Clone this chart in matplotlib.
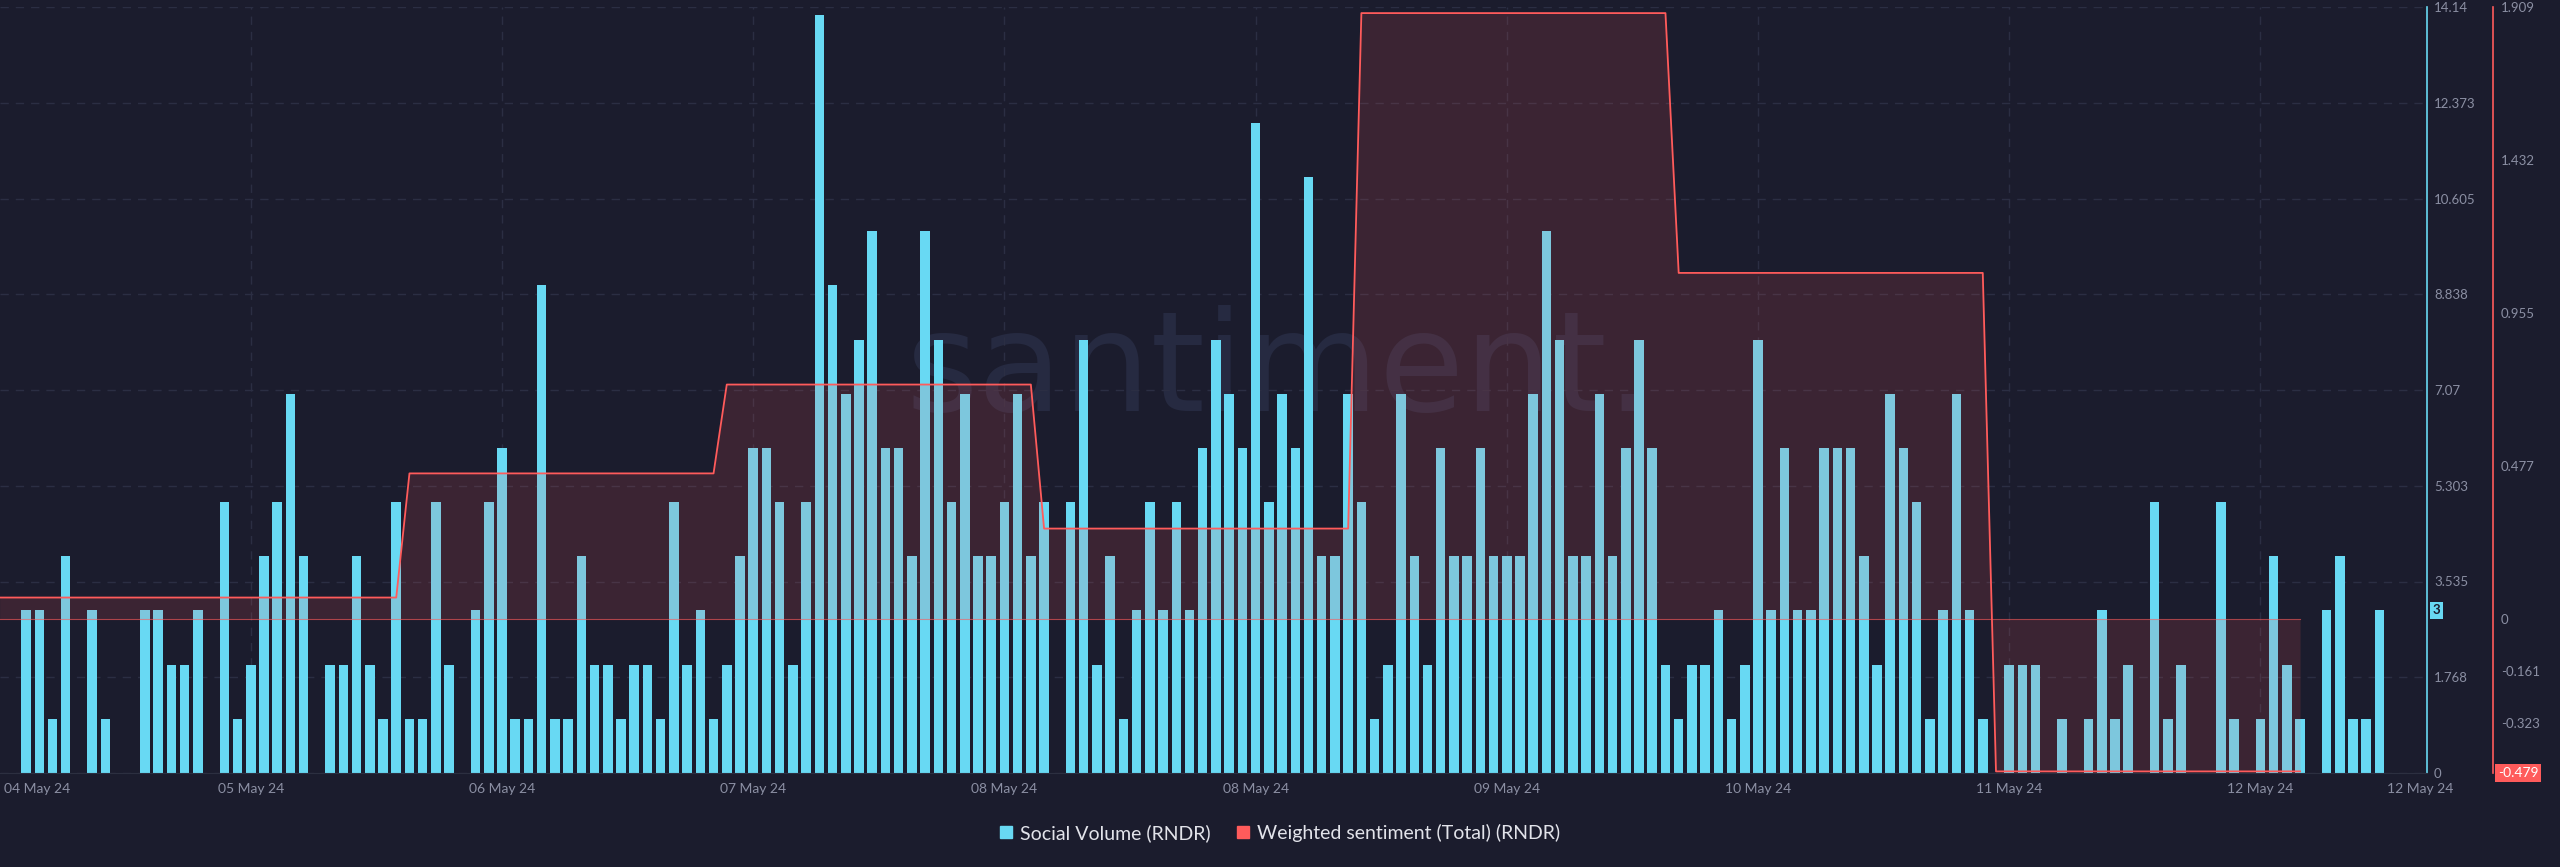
import numpy as np
import matplotlib.pyplot as plt
from matplotlib.lines import Line2D

# hourly social volume, 04 May 24 -> 12 May 24
social_volume = [
    0, 0,
    3, 3, 1, 4, 0, 3, 1, 0, 0, 3, 3, 2, 2, 3, 0, 5, 1, 2, 4, 5, 7, 4, 0, 2,
    2, 4, 2, 1, 5, 1, 1, 5, 2, 0, 3, 5, 6, 1, 1, 9, 1, 1, 4, 2,
    2, 1, 2, 2, 1, 5, 2, 3, 1, 2, 4, 6, 6, 5, 2, 5, 14, 9, 7, 8, 10, 6, 6, 4,
    10, 8, 5, 7, 4, 4, 5, 7, 4, 5, 0, 5, 8, 2, 4, 1, 3, 5, 3, 5, 3, 6, 8,
    7, 6, 12, 5, 7, 6, 11, 4, 4, 7, 5, 1, 2, 7, 4, 2, 6, 4, 4, 6, 4, 4, 4, 7,
    10, 8, 4, 4, 7, 4, 6, 8, 6, 2, 1, 2, 2, 3, 1, 2, 8, 3, 6, 3, 3,
    6, 6, 6, 4, 2, 7, 6, 5, 1, 3, 7, 3, 1, 0, 2, 2, 2, 0, 1, 0, 1, 3, 1, 2,
    0, 5, 1, 2, 0, 0, 5, 1, 0, 1, 4, 2, 1, 0, 3, 4, 1, 1, 3,
]

# weighted sentiment: one value per day, held for the listed number of hours
sentiment_levels = [0.068, 0.455, 0.732, 0.283, 1.89, 1.08, -0.474]
sentiment_hours = [31, 24, 24, 24, 24, 24, 24]

date_labels = ["04 May 24", "05 May 24", "06 May 24", "07 May 24", "08 May 24", "08 May 24",
               "09 May 24", "10 May 24", "11 May 24", "12 May 24", "12 May 24"]

vol_ticks = [0, 1.768, 3.535, 5.303, 7.07, 8.838, 10.605, 12.373, 14.14]
vol_tick_labels = ["0", "1.768", "3.535", "5.303", "7.07", "8.838", "10.605", "12.373", "14.14"]
sent_ticks = [1.909, 1.432, 0.955, 0.477, 0, -0.161, -0.323]
sent_tick_labels = ["1.909", "1.432", "0.955", "0.477", "0", "-0.161", "-0.323"]

BG = "#1b1c2d"
CYAN = "#68d9f3"
RED = "#ff5b5b"
GRID = "#2b2e43"
TICK = "#8b8fa3"

plt.rcParams["font.family"] = ["Lato", "DejaVu Sans"]

sv = np.array(social_volume)
x = np.arange(len(sv))
sent = np.repeat(sentiment_levels, sentiment_hours)
xs = np.arange(len(sent))

fig = plt.figure(figsize=(25.6, 8.67), dpi=100, facecolor=BG)
ax = fig.add_axes([0, 1 - 773 / 867, 2427 / 2560, 766 / 867])
ax.set_facecolor(BG)
ax2 = ax.twinx()

# watermark
ax.text(0.5266, 0.4726, "santiment.", transform=ax.transAxes, ha="center", va="baseline",
        fontsize=100, color="#262a41", family=["Liberation Sans Narrow", "DejaVu Sans"], zorder=0.5)

ax.bar(x, sv, width=0.72, color=CYAN, zorder=2)
ax.set_xlim(0.03, 183.6)
ax.set_ylim(0, 14.14)

ax.set_axisbelow(True)
ax.yaxis.tick_right()
ax.set_yticks(vol_ticks, vol_tick_labels)
ax.grid(axis="y", color=GRID, lw=1, ls=(0, (6, 5)))
tick_pos = [2.87] + [19 * k for k in range(1, 10)] + [183.1]
for p in tick_pos[1:-1]:
    ax.axvline(p, color=GRID, lw=1, ls=(0, (6, 5)), zorder=0.6)
ax.set_xticks(tick_pos, date_labels)
ax.tick_params(axis="x", length=0, pad=7, labelsize=10, labelcolor=TICK)
ax.tick_params(axis="y", length=0, pad=5, labelsize=9.5, labelcolor=TICK,
               left=False, labelleft=False, right=True, labelright=True)

for s in ["left", "top"]:
    ax.spines[s].set_visible(False)
ax.spines["bottom"].set_color("#2c2f40")
ax.spines["right"].set_color(CYAN)
ax.spines["right"].set_linewidth(1.2)

# sentiment axis
ax2.set_ylim(-0.479, 1.909)
ax2.fill_between(xs, sent, 0, color=RED, alpha=0.14, lw=0, zorder=3)
ax2.plot([xs[0], xs[-1]], [0, 0], color=RED, lw=0.8, alpha=0.6, zorder=3)
ax2.plot(xs, sent, color=RED, lw=1.3, zorder=4)
ax2.set_yticks(sent_ticks, sent_tick_labels)
ax2.tick_params(axis="y", length=0, pad=5.5, labelsize=9.5, labelcolor=TICK)
for s in ["left", "top", "bottom"]:
    ax2.spines[s].set_visible(False)
ax2.spines["right"].set_position(("outward", 66 * 72 / 100))
ax2.spines["right"].set_color(RED)
ax2.spines["right"].set_linewidth(1.2)

# last value tags
ax.annotate(str(social_volume[-1]), xy=(1, social_volume[-1]), xycoords=ax.get_yaxis_transform(),
            xytext=(6, 0), textcoords="offset pixels", ha="left", va="center",
            fontsize=9.5, fontweight="bold", color=BG,
            bbox=dict(boxstyle="square,pad=0.2", fc=CYAN, ec="none"))
ax2.annotate("%.3f" % -0.479, xy=(1, -0.479), xycoords=ax2.get_yaxis_transform(),
             xytext=(71, 0), textcoords="offset pixels", ha="left", va="center",
             fontsize=10, color="white",
             bbox=dict(boxstyle="square,pad=0.2", fc=RED, ec="none"))

handles = [Line2D([], [], ls="none", marker="s", ms=8, color=CYAN),
           Line2D([], [], ls="none", marker="s", ms=8, color=RED)]
fig.legend(handles, ["Social Volume (RNDR)", "Weighted sentiment (Total) (RNDR)"],
           loc="center", bbox_to_anchor=(0.5, 1 - 833 / 867), ncol=2, frameon=False,
           fontsize=14, labelcolor="#e2e3ea", handlelength=0.6, handletextpad=0.4,
           columnspacing=1.4)

fig.savefig("out.png", dpi=100, facecolor=BG)
